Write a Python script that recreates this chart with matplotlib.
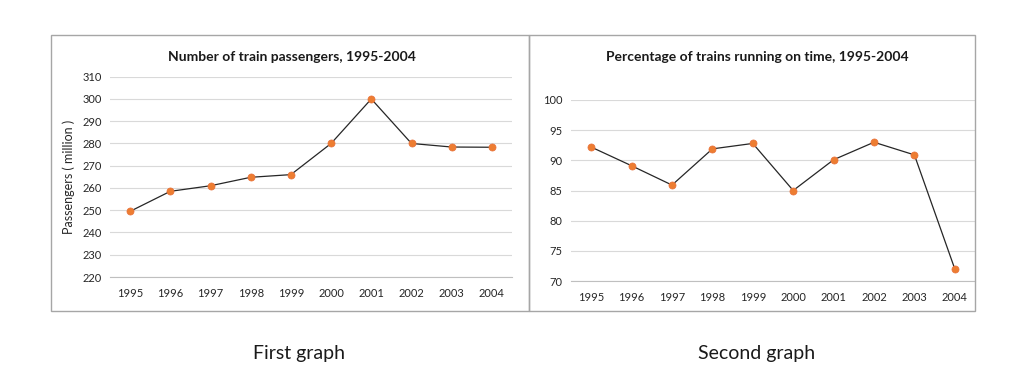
import matplotlib
matplotlib.use("Agg")
from matplotlib import pyplot as plt
from matplotlib.patches import Rectangle

years = ["1995", "1996", "1997", "1998", "1999", "2000", "2001", "2002", "2003", "2004"]
passengers = [249.5, 258.5, 261, 264.8, 266, 280, 300, 280, 278.4, 278.3]
on_time = [92.2, 89.1, 85.9, 91.9, 92.8, 85, 90.1, 93, 90.9, 72]

plt.rcParams['font.family'] = ['Lato', 'DejaVu Sans']

W, H = 1013, 386
fig = plt.figure(figsize=(W / 100, H / 100), dpi=100)

def px(x0, y0, x1, y1):
    # pixel box (top-left origin) -> figure fraction rect
    return [x0 / W, 1 - y1 / H, (x1 - x0) / W, (y1 - y0) / H]

# panel borders
for x0, x1 in [(50.5, 529), (529, 975)]:
    fig.patches.append(Rectangle((x0 / W, 1 - 311 / H), (x1 - x0) / W, (311 - 34.5) / H,
                                 transform=fig.transFigure, fill=False,
                                 edgecolor="#a6a6a6", linewidth=1))

def draw(ax, vals, yticks, title, title_pos):
    x = range(len(years))
    ax.plot(x, vals, color="#262626", linewidth=0.9, zorder=3)
    ax.scatter(x, vals, s=26, color="#ED7D31", edgecolor="#E8703A", linewidth=0.5, zorder=4)
    ax.set_xlim(-0.5, len(years) - 0.5)
    ax.set_ylim(yticks[0], yticks[-1])
    ax.set_yticks(yticks)
    ax.set_xticks(list(x))
    ax.set_xticklabels(years)
    ax.grid(axis="y", color="#d9d9d9", linewidth=0.8)
    ax.set_axisbelow(True)
    for s in ["top", "right", "left"]:
        ax.spines[s].set_visible(False)
    ax.spines["bottom"].set_color("#bfbfbf")
    ax.spines["bottom"].set_linewidth(0.8)
    ax.tick_params(axis="both", length=0, labelsize=8, labelcolor="#262626")
    ax.tick_params(axis="x", pad=8)
    ax.tick_params(axis="y", pad=6)
    ax.patch.set_alpha(0)
    fig.text(title_pos[0] / W, 1 - title_pos[1] / H, title, ha="center", va="center",
             fontsize=10, fontweight="bold", color="#1a1a1a")

ax1 = fig.add_axes(px(110, 76.7, 512, 277))
draw(ax1, passengers, list(range(220, 311, 10)),
     "Number of train passengers, 1995-2004", (292, 57))
ax1.set_ylabel("Passengers ( million )", fontsize=9, color="#262626", labelpad=5)

ax2 = fig.add_axes(px(571, 100, 975, 281))
draw(ax2, on_time, list(range(70, 101, 5)),
     "Percentage of trains running on time, 1995-2004", (757, 57))

fig.text(299 / W, 1 - 354 / H, "First graph", ha="center", va="center",
         fontsize=14, color="#1a1a1a")
fig.text(757 / W, 1 - 354 / H, "Second graph", ha="center", va="center",
         fontsize=14, color="#1a1a1a")

fig.savefig("out.png", dpi=100)
